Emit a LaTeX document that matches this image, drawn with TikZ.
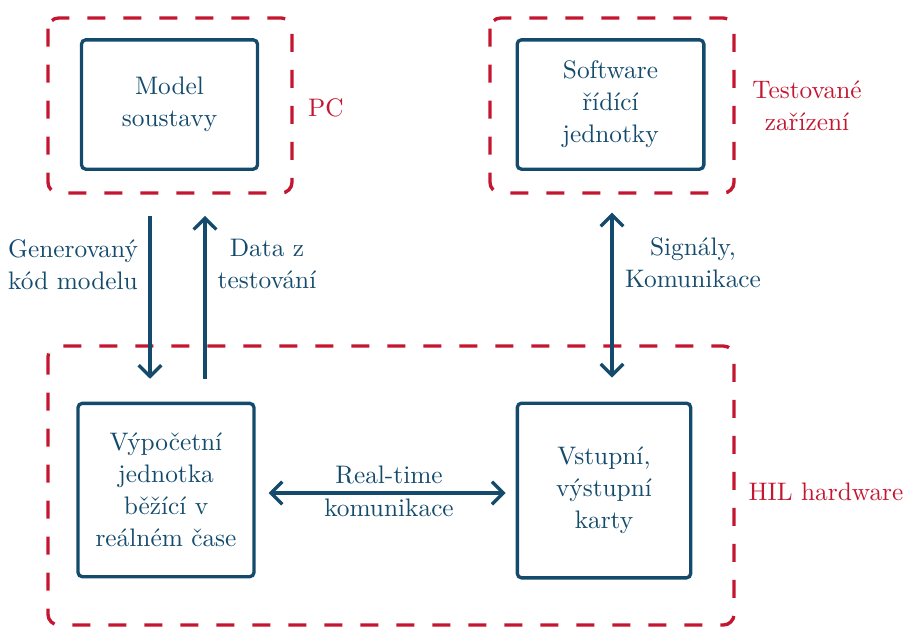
\documentclass[tikz,border=0pt]{standalone}
\usetikzlibrary{arrows.meta,calc}
\definecolor{hilblue}{RGB}{20,75,108}
\definecolor{hilred}{RGB}{196,22,48}
\begin{document}
\begin{tikzpicture}[x=0.375pt,y=-0.375pt,
  font=\fontsize{9.5}{12}\selectfont,
  block/.style={draw=hilblue,line width=1.25pt,rounded corners=1.6pt,text=hilblue,align=center,inner sep=0pt},
  group/.style={draw=hilred,line width=1.25pt,rounded corners=4pt,dash pattern=on 6.75pt off 6.75pt},
  grouplabel/.style={text=hilred,align=center},
  lbl/.style={text=hilblue,align=center},
  arr/.style={draw=hilblue,line width=1.25pt,-{Straight Barb[length=4.2pt,width=8.5pt,line width=1.25pt]}},
  darr/.style={draw=hilblue,line width=1.25pt,{Straight Barb[length=4.2pt,width=8.5pt,line width=1.25pt]}-{Straight Barb[length=4.2pt,width=8.5pt,line width=1.25pt]}}]
\useasboundingbox (0,0) rectangle (904,628);

% dashed groups
\draw[group] (48,18) rectangle (292,193);
\draw[group] (490,18) rectangle (734,193);
\draw[group] (48,346) rectangle (734,625);
\node[grouplabel] (pc) at (326,108) {PC};
\node[grouplabel] (dut) at (807,106) {Testované\\zařízení};
\node[grouplabel] (hil) at (826,492) {HIL hardware};

% blocks
\node[block,minimum width=66pt,minimum height=48.5pt] (model) at (169.5,104.5) {Model\\soustavy};
\node[block,minimum width=70pt,minimum height=48.5pt] (ecu) at (610.5,104.5) {Software\\řídící\\jednotky};
\node[block,minimum width=66pt,minimum height=65pt] (rt) at (166,490) {Výpočetní\\jednotka\\běžící v\\reálném čase};
\node[block,minimum width=65pt,minimum height=65.5pt] (io) at (604,490.5) {Vstupní,\\výstupní\\karty};

% connectors
\coordinate (gdown) at ($(model.south)+(-19.5,0)$);
\coordinate (gup) at ($(model.south)+(35.5,0)$);
\draw[arr,shorten <=16.9pt,shorten >=8.6pt] (gdown) -- (gdown |- rt.north);
\draw[arr,shorten <=8.6pt,shorten >=16.9pt] (gup |- rt.north) -- (gup);
\coordinate (sig) at ($(ecu.south)+(1.5,0)$);
\draw[darr,shorten <=15.7pt,shorten >=9pt] (sig) -- (sig |- io.north);
\draw[darr,shorten <=4.9pt,shorten >=3.8pt] (rt.east |- 0,493) -- (io.west |- 0,493);

% connector labels
\node[lbl] at (73,265) {Generovaný\\kód modelu};
\node[lbl] at (267,264) {Data z\\testování};
\node[lbl] at (693,263) {Signály,\\Komunikace};
\node[lbl] at (389,475) {Real-time};
\node[lbl] at (389,508) {komunikace};
\end{tikzpicture}
\end{document}
